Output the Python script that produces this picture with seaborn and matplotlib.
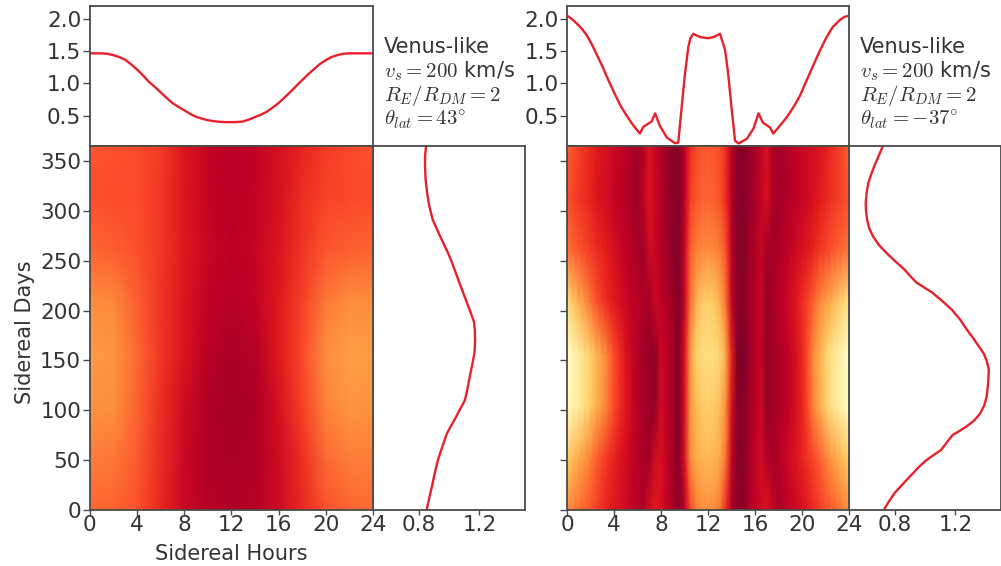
import numpy as np
import pandas as pd
import matplotlib
matplotlib.use("Agg")
import matplotlib.pyplot as plt
import seaborn as sns

sns.set_style("ticks")
plt.rcParams['font.family'] = ['DejaVu Sans']
plt.rcParams['mathtext.fontset'] = 'cm'

W, H = 1001, 566
text_col = '#333333'
spine_col = '#4a4a4a'
line_col = '#e8202a'

hour_ticks = [0, 4, 8, 12, 16, 20, 24]
day_ticks = [0, 50, 100, 150, 200, 250, 300, 350]
top_ticks = [0.5, 1.0, 1.5, 2.0]
side_ticks = [0.8, 1.2]

# top curves, rate against sidereal hour
left_hours = [0, 1, 1.5, 2, 2.5, 3, 3.5, 4, 4.5, 5, 5.5, 6, 6.5, 7, 7.5, 8, 8.5, 9, 9.5, 10, 10.5, 11, 11.5, 12,
              12.5, 13, 13.5, 14, 14.5, 15, 15.5, 16, 16.5, 17, 17.5, 18, 18.5, 19, 19.5, 20, 20.5, 21, 21.5,
              22, 23, 24]
left_rate_h = [1.466, 1.466, 1.46, 1.44, 1.41, 1.37, 1.30, 1.22, 1.13, 1.03, 0.95, 0.866, 0.78, 0.70, 0.64,
               0.586, 0.53, 0.485, 0.455, 0.43, 0.415, 0.405, 0.40, 0.40, 0.402, 0.41, 0.44, 0.478, 0.515,
               0.56, 0.625, 0.695, 0.78, 0.866, 0.96, 1.05, 1.14, 1.22, 1.30, 1.36, 1.41, 1.44, 1.46, 1.466,
               1.466, 1.466]
right_hours = [0, 0.4, 0.82, 1.25, 1.67, 2.1, 2.5, 3, 3.4, 3.8, 4.2, 4.6, 5.08, 5.6, 6.2, 6.5, 7.2, 7.5, 7.9,
               8.5, 9.2, 9.47, 9.76, 10.04, 10.33, 10.5, 10.75, 11.3, 12, 12.5, 13.02, 13.45, 13.7, 14.0, 14.3,
               14.6, 15.3, 15.86, 16.3, 16.66, 17.28, 17.56, 18.1, 18.7, 19.3, 19.83, 20.4, 20.96, 21.5, 22.1,
               22.6, 23.2, 23.6, 24]
right_rate_h = [2.05, 2.0, 1.93, 1.85, 1.75, 1.61, 1.46, 1.27, 1.10, 0.94, 0.786, 0.64, 0.50, 0.36, 0.223, 0.328,
                0.41, 0.536, 0.344, 0.16, 0.073, 0.083, 0.63, 1.15, 1.57, 1.70, 1.77, 1.72, 1.70, 1.72, 1.77,
                1.52, 1.18, 0.63, 0.11, 0.07, 0.14, 0.297, 0.536, 0.395, 0.317, 0.223, 0.34, 0.474, 0.64, 0.81,
                1.05, 1.28, 1.5, 1.72, 1.87, 1.98, 2.03, 2.05]

# side curves, rate against sidereal day
left_days = [0, 12, 23, 36, 50, 63, 77, 93, 110, 120, 131, 145, 157, 170, 180, 189, 203, 218, 228, 238, 248, 258,
             275, 291, 305, 318, 332, 345, 355, 365]
left_rate_d = [0.853, 0.87, 0.887, 0.905, 0.927, 0.955, 0.987, 1.045, 1.104, 1.12, 1.133, 1.152, 1.167, 1.172,
               1.17, 1.164, 1.13, 1.093, 1.068, 1.044, 1.02, 0.993, 0.94, 0.893, 0.87, 0.856, 0.846, 0.842,
               0.843, 0.849]
right_days = [0, 8, 17, 27, 37, 44, 50, 55, 60, 67, 75, 80, 84, 90, 97, 105, 114, 128, 141, 150, 157, 165, 174,
              182, 191, 201, 210, 218, 228, 235, 241, 250, 258, 266, 275, 283, 291, 300, 308, 318, 328, 336, 345,
              355, 365]
right_rate_d = [0.729, 0.76, 0.80, 0.86, 0.922, 0.965, 1.01, 1.055, 1.105, 1.14, 1.18, 1.235, 1.276, 1.325, 1.364,
                1.39, 1.406, 1.416, 1.42, 1.405, 1.386, 1.35, 1.309, 1.27, 1.231, 1.176, 1.11, 1.048, 0.944, 0.90,
                0.866, 0.80, 0.745, 0.695, 0.656, 0.632, 0.619, 0.612, 0.61, 0.616, 0.627, 0.645, 0.667, 0.695,
                0.723]

# heat maps, shade (0 dark red, 1 pale yellow), rows go up in days
left_heat = [
    [.42, .42, .38, .28, .17, .11, .10, .11, .18, .28, .38, .42, .44],
    [.47, .46, .40, .29, .17, .10, .09, .10, .18, .30, .43, .47, .47],
    [.52, .51, .42, .30, .18, .10, .08, .09, .20, .34, .48, .53, .52],
    [.55, .53, .43, .32, .22, .12, .09, .11, .24, .36, .50, .56, .55],
    [.50, .49, .41, .31, .23, .14, .11, .14, .24, .34, .46, .50, .50],
    [.42, .41, .38, .32, .24, .16, .125, .155, .22, .31, .39, .41, .42],
    [.38, .37, .37, .32, .23, .15, .12, .145, .21, .30, .35, .36, .37],
    [.39, .38, .37, .33, .23, .15, .115, .14, .20, .27, .33, .36, .38],
]
right_heat = [
    [.50, .47, .44, .41, .38, .34, .30, .26, .24, .21, .18, .14, .11, .09, .20, .24, .20, .14, .08, .03,
     .12, .35, .47, .50, .50, .50, .46, .30, .10, .02, .03, .09, .14, .18, .22, .16, .08, .11, .14, .17,
     .21, .25, .29, .33, .37, .40, .43, .47, .50],
    [.72, .66, .60, .54, .47, .41, .36, .31, .27, .23, .19, .15, .11, .09, .07, .19, .21, .14, .08, .02,
     .20, .50, .60, .64, .65, .64, .60, .45, .15, .01, .03, .08, .14, .19, .12, .08, .11, .15, .19, .23,
     .27, .31, .36, .41, .47, .54, .60, .66, .72],
    [.96, .92, .86, .78, .71, .62, .54, .45, .37, .30, .24, .17, .12, .08, .06, .05, .18, .13, .08, .01,
     .20, .52, .65, .70, .72, .71, .66, .50, .22, .01, .02, .07, .12, .17, .05, .07, .09, .12, .15, .20,
     .27, .37, .49, .60, .71, .80, .87, .92, .96],
    [.97, .93, .86, .79, .72, .64, .55, .46, .37, .30, .22, .16, .10, .07, .05, .04, .17, .13, .08, .01,
     .20, .54, .72, .77, .78, .77, .74, .60, .27, .01, .00, .05, .11, .16, .05, .07, .09, .12, .15, .21,
     .28, .38, .50, .62, .72, .80, .88, .93, .97],
    [.78, .70, .62, .53, .45, .38, .33, .28, .25, .21, .17, .14, .12, .10, .08, .17, .14, .10, .06, .01,
     .15, .44, .62, .70, .72, .70, .62, .45, .15, .01, .03, .07, .11, .16, .06, .08, .12, .15, .19, .24,
     .29, .35, .42, .49, .55, .62, .69, .74, .78],
    [.45, .42, .39, .36, .33, .30, .27, .24, .20, .17, .14, .11, .09, .07, .18, .16, .11, .07, .03, .01,
     .14, .40, .47, .49, .50, .49, .47, .38, .13, .01, .02, .06, .10, .16, .08, .07, .09, .12, .15, .18,
     .21, .24, .28, .32, .35, .38, .41, .43, .45],
    [.38, .35, .32, .30, .27, .23, .20, .18, .15, .13, .11, .08, .06, .13, .23, .17, .11, .06, .03, .01,
     .12, .33, .39, .41, .42, .41, .38, .30, .12, .01, .02, .05, .09, .14, .21, .10, .07, .09, .11, .13,
     .16, .18, .21, .25, .28, .31, .33, .36, .38],
    [.42, .38, .34, .31, .28, .25, .22, .20, .17, .15, .12, .10, .07, .12, .22, .16, .10, .06, .02, .01,
     .12, .30, .37, .39, .40, .39, .37, .30, .12, .01, .02, .05, .09, .14, .20, .10, .07, .09, .12, .14,
     .16, .18, .20, .23, .26, .29, .33, .37, .42],
]

notes_left = ['Venus-like', r'$v_s = 200$ km/s', r'$R_E/R_{DM} = 2$', r'$\theta_{lat} = 43^{\circ}$']
notes_right = ['Venus-like', r'$v_s = 200$ km/s', r'$R_E/R_{DM} = 2$', r'$\theta_{lat} = -37^{\circ}$']


def px_axes(fig, x0, x1, y0, y1):
    return fig.add_axes([x0 / W, 1 - y1 / H, (x1 - x0) / W, (y1 - y0) / H])


def tidy(ax):
    for s in ax.spines.values():
        s.set_visible(True)
        s.set_color(spine_col)
        s.set_linewidth(1.3)
    ax.tick_params(axis='y', colors=text_col, labelsize=15.5, length=5, width=1.0, color=spine_col, pad=1)
    ax.tick_params(axis='x', colors=text_col, labelsize=15.5, length=3.5, width=1.0, color=spine_col, pad=0)


def panel(fig, x0, x1, x2, heat, hours, rate_h, days, rate_d, notes, day_labels):
    ax_top = px_axes(fig, x0, x1, 6, 146)
    ax_heat = px_axes(fig, x0, x1, 146, 510)
    ax_side = px_axes(fig, x1, x2, 146, 510)

    sns.lineplot(x=hours, y=rate_h, ax=ax_top, color=line_col, lw=1.7, estimator=None, sort=False)
    ax_top.set_xlim(0, 24)
    ax_top.set_ylim(0.03, 2.2)
    ax_top.set_xticks([])
    ax_top.set_yticks(top_ticks)
    ax_top.set_yticklabels(['%.1f' % t for t in top_ticks])

    table = pd.DataFrame(heat)
    ny, nx = table.shape
    sns.heatmap(table, ax=ax_heat, cmap='YlOrRd_r', vmin=0, vmax=1, cbar=False, shading='gouraud',
                xticklabels=False, yticklabels=False)
    ax_heat.set_xlim(0, nx - 1)
    ax_heat.set_ylim(0, ny - 1)
    ax_heat.set_xticks(np.array(hour_ticks) / 24 * (nx - 1))
    ax_heat.set_xticklabels(hour_ticks, rotation=0)
    ax_heat.set_yticks(np.array(day_ticks) / 365 * (ny - 1))
    ax_heat.set_yticklabels(day_ticks if day_labels else [], rotation=0)

    sns.lineplot(x=rate_d, y=days, ax=ax_side, color=line_col, lw=1.7, estimator=None, sort=False, orient='y')
    ax_side.set_xlim(0.5, 1.5)
    ax_side.set_ylim(0, 365)
    ax_side.set_yticks([])
    ax_side.set_xticks(side_ticks)
    ax_side.set_xticklabels(['%.1f' % t for t in side_ticks])

    for ax in (ax_top, ax_heat, ax_side):
        tidy(ax)
        ax.set_xlabel('')
        ax.set_ylabel('')
    ax_heat.set_zorder(3)

    for note, y in zip(notes, [47, 71, 95, 120]):
        fig.text((x1 + 11) / W, 1 - y / H, note, fontsize=15, color=text_col, va='center', ha='left')
    return ax_heat


fig = plt.figure(figsize=(W / 100, H / 100), dpi=100)
panel(fig, 89.5, 373, 525, left_heat, left_hours, left_rate_h, left_days, left_rate_d, notes_left, True)
panel(fig, 567, 849, 1001, right_heat, right_hours, right_rate_h, right_days, right_rate_d, notes_right, False)

fig.text(231 / W, 1 - 554 / H, 'Sidereal Hours', fontsize=15, color=text_col, ha='center', va='center')
fig.text(25 / W, 1 - 332 / H, 'Sidereal Days', fontsize=15, color=text_col, ha='center', va='center', rotation=90)

fig.savefig('out.png', dpi=100)
